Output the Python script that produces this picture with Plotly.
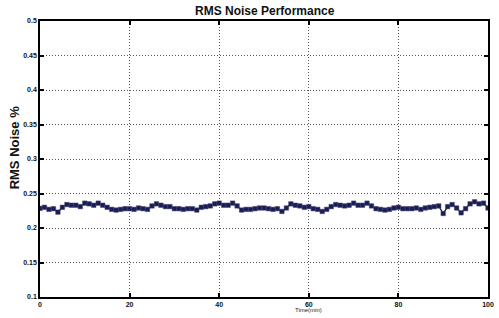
import plotly.graph_objects as go

time_min = list(range(0, 101))
rms_noise = [
    0.2285, 0.230, 0.227, 0.228, 0.223, 0.230, 0.234, 0.233, 0.233, 0.231,
    0.236, 0.235, 0.233, 0.236, 0.233, 0.230, 0.227, 0.226, 0.227, 0.228,
    0.228, 0.227, 0.229, 0.228, 0.227, 0.232, 0.235, 0.233, 0.231, 0.231,
    0.228, 0.228, 0.227, 0.228, 0.228, 0.226, 0.230, 0.231, 0.232, 0.235,
    0.236, 0.233, 0.233, 0.236, 0.232, 0.226, 0.227, 0.227, 0.228, 0.229,
    0.229, 0.228, 0.227, 0.228, 0.224, 0.229, 0.235, 0.233, 0.232, 0.230,
    0.231, 0.228, 0.227, 0.224, 0.227, 0.231, 0.234, 0.233, 0.232, 0.233,
    0.236, 0.233, 0.233, 0.236, 0.232, 0.228, 0.227, 0.226, 0.227, 0.229,
    0.230, 0.228, 0.228, 0.228, 0.229, 0.227, 0.229, 0.230, 0.231, 0.232,
    0.221, 0.231, 0.234, 0.229, 0.222, 0.228, 0.235, 0.238, 0.235, 0.236,
    0.229,
]
x_ticks = [0, 20, 40, 60, 80, 100]
y_ticks = [0.1, 0.15, 0.2, 0.25, 0.3, 0.35, 0.4, 0.45, 0.5]
y_tick_labels = ["0.1", "0.15", "0.2", "0.25", "0.3", "0.35", "0.4", "0.45", "0.5"]

FONT = "Liberation Sans, Arial, sans-serif"

W, H = 499, 318
L, R, T, B = 40, 5, 21, 21
plot_h = H - T - B
plot_w = W - L - R

fig = go.Figure()
fig.add_trace(go.Scatter(
    x=time_min, y=[v - 0.0012 for v in rms_noise], mode="lines",
    line=dict(color="rgba(220,220,120,0.8)", width=1), hoverinfo="skip",
    showlegend=False,
))
fig.add_trace(go.Scatter(
    x=time_min, y=rms_noise, mode="lines+markers",
    line=dict(color="#151a50", width=1.3),
    marker=dict(symbol="square", size=4.5, color="#181c58",
                line=dict(color="#4a4a6a", width=0.5)),
    showlegend=False,
))

grid = dict(showgrid=True, gridcolor="#555555", griddash="1px,2px", gridwidth=1)
tickfont = dict(family=FONT, size=7, color="#111111", weight="bold")
fig.update_xaxes(
    range=[0, 100], tickvals=x_ticks, ticks="inside", ticklen=4,
    tickcolor="black", tickwidth=1.5, showline=True, linecolor="black",
    linewidth=1.5, mirror="ticks", zeroline=False, tickfont=tickfont,
    **grid,
)
fig.update_yaxes(
    range=[0.1, 0.5], tickvals=y_ticks, ticktext=y_tick_labels,
    ticks="inside", ticklen=4, tickcolor="black", tickwidth=1.5,
    showline=True, linecolor="black", linewidth=1.5, mirror="ticks",
    zeroline=False, tickfont=tickfont,
    **grid,
)
fig.update_layout(
    width=W, height=H,
    margin=dict(l=L, r=R, t=T, b=B),
    paper_bgcolor="white", plot_bgcolor="white",
    annotations=[
        dict(text="<b>RMS Noise Performance</b>", xref="paper", yref="paper",
             x=(268 - L) / plot_w, xanchor="center",
             y=1 + (T - 11) / plot_h, yanchor="middle", showarrow=False,
             font=dict(family=FONT, size=12, color="#111111")),
        dict(text="<b>RMS Noise %</b>", xref="paper", yref="paper",
             x=-(L - 14) / plot_w, xanchor="center",
             y=(H - B - 147) / plot_h, yanchor="middle",
             showarrow=False, textangle=-90,
             font=dict(family=FONT, size=13, color="#111111")),
        dict(text="Time(min)", xref="paper", yref="paper",
             x=(312 - L) / plot_w, xanchor="center",
             y=-(310 - (H - B)) / plot_h, yanchor="middle", showarrow=False,
             font=dict(family=FONT, size=6, color="#222222")),
    ],
)

fig.write_html(
    "out.html",
    config={"displayModeBar": False},
    post_script="document.body.style.margin='0';document.body.style.overflow='hidden';",
)
